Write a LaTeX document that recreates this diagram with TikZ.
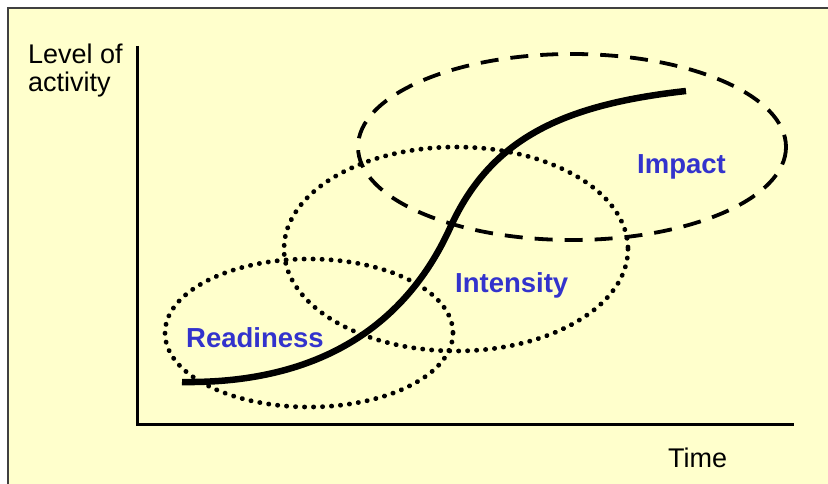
\documentclass[tikz,border=0pt]{standalone}
\usepackage{fontspec}
\setmainfont{Liberation Sans}
\usepackage{tikz}
\usetikzlibrary{positioning}
\definecolor{Paper}{HTML}{FFFFCC}
\definecolor{Frame}{HTML}{404040}
\definecolor{Phase}{HTML}{3333CC}
\tikzset{
  axisline/.style={line width=3pt},
  dotring/.style={line width=4.8pt, line cap=round, dash pattern=on 0.2pt off 8.8pt},
  dashring/.style={line width=3.8pt, dash pattern=on 18pt off 12pt},
  phaselabel/.style={text=Phase, font=\fontsize{27.5}{30}\selectfont\bfseries, inner sep=0pt, anchor=base west},
  axislabel/.style={font=\fontsize{27}{28.5}\selectfont, inner sep=0pt}
}

\begin{document}
\begin{tikzpicture}[x=1pt, y=-1pt]
\useasboundingbox (0,0) rectangle (828,484);
\clip (0,0) rectangle (828,484);
\fill[Paper] (8,8) rectangle (840,500);
\draw[Frame, line width=2.5pt] (8,500) -- (8,8) -- (840,8);
% axes
\coordinate (top) at (137,46);
\coordinate (origin) at (137,424);
\coordinate (right) at (794,424);
\draw[axisline] (top) -- (origin) -- (right);
\node[axislabel, anchor=north west, align=left] (ylabel) at (28,43.5) {Level of\\activity};
\node[axislabel, anchor=base west] (xlabel) at (668,467) {Time};
% phases
\draw[dotring] (309,333) ellipse [x radius=144, y radius=74];
\draw[dotring] (456,249) ellipse [x radius=172, y radius=102];
\draw[dashring] (572,147) ellipse [x radius=214, y radius=93];
% growth curve
\draw[line width=6.5pt] (182,382) .. controls (330,384) and (410,316) .. (450,228)
  .. controls (490,140) and (560,105) .. (686,91);
\node[phaselabel] (readiness) at (186,347.5) {Readiness};
\node[phaselabel] (intensity) at (455,292) {Intensity};
\node[phaselabel] (impact) at (637,174) {Impact};
\end{tikzpicture}
\end{document}
